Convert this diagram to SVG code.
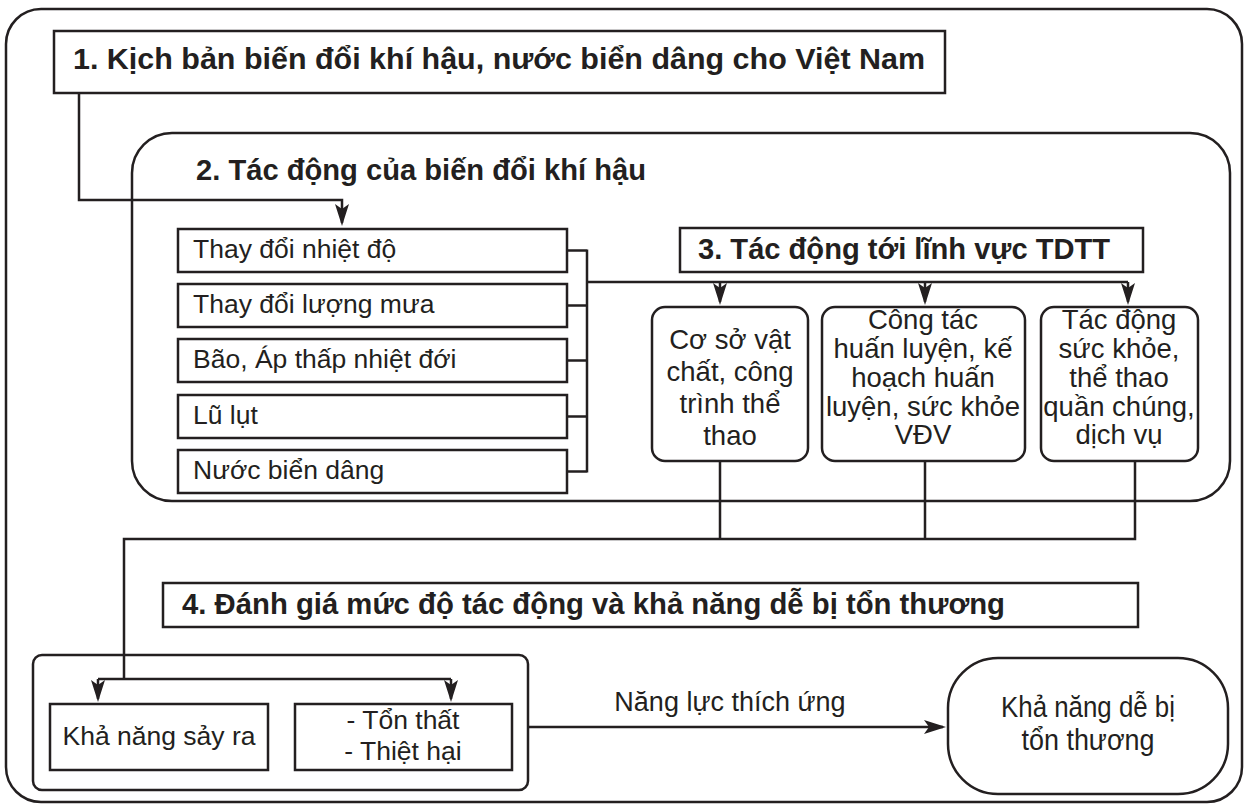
<svg xmlns="http://www.w3.org/2000/svg" width="1245" height="805" viewBox="0 0 1245 805">
<defs>
<marker id="ah" markerUnits="userSpaceOnUse" markerWidth="24" markerHeight="16" refX="19" refY="7" orient="auto">
<path d="M0,0 L22,7 L0,14 L5,7 Z" fill="#231f20"/>
</marker>
<style>
.b{fill:#fff;stroke:#231f20;stroke-width:2.5}
.f{fill:none;stroke:#231f20;stroke-width:2.5}
.c{fill:none;stroke:#231f20;stroke-width:2.5}
.t{font-family:"Liberation Sans",Arial,sans-serif;font-size:26.5px;fill:#231f20}
.s{font-size:27.5px}
.h{font-family:"Liberation Sans",Arial,sans-serif;font-size:29px;font-weight:bold;fill:#231f20}
.m{text-anchor:middle}
</style>
</defs>
<rect width="1245" height="805" fill="#fff"/>
<g id="frame"><rect class="f" x="6" y="9" width="1236" height="793" rx="35"/></g>
<g id="n1"><rect class="b" x="54" y="31" width="891" height="62"/>
<text class="h" x="73" y="69" textLength="852" lengthAdjust="spacingAndGlyphs">1. Kịch bản biến đổi khí hậu, nước biển dâng cho Việt Nam</text></g>
<g id="n2"><rect class="f" x="132" y="133" width="1098" height="368" rx="40"/>
<text class="h" x="196" y="180" textLength="450" lengthAdjust="spacingAndGlyphs">2. Tác động của biến đổi khí hậu</text></g>
<g id="l1"><rect class="b" x="178" y="229" width="389" height="43"/><text class="t" x="193" y="258">Thay đổi nhiệt độ</text></g>
<g id="l2"><rect class="b" x="178" y="284" width="389" height="43"/><text class="t" x="193" y="313">Thay đổi lượng mưa</text></g>
<g id="l3"><rect class="b" x="178" y="339" width="389" height="43"/><text class="t" x="193" y="368">Bão, Áp thấp nhiệt đới</text></g>
<g id="l4"><rect class="b" x="178" y="395" width="389" height="43"/><text class="t" x="193" y="424">Lũ lụt</text></g>
<g id="l5"><rect class="b" x="178" y="450" width="389" height="43"/><text class="t" x="193" y="479">Nước biển dâng</text></g>
<g id="n3"><rect class="b" x="680" y="228" width="463" height="44"/>
<text class="h" x="698" y="259" textLength="412" lengthAdjust="spacingAndGlyphs">3. Tác động tới lĩnh vực TDTT</text></g>
<g id="s1"><rect class="b" x="652" y="307" width="156" height="154" rx="13"/>
<text class="t s m" x="730"><tspan x="730" y="349">Cơ sở vật</tspan><tspan x="730" y="381">chất, công</tspan><tspan x="730" y="413">trình thể</tspan><tspan x="730" y="445">thao</tspan></text></g>
<g id="s2"><rect class="b" x="822" y="307" width="203" height="154" rx="13"/>
<text class="t s m" x="923"><tspan x="923" y="329">Công tác</tspan><tspan x="923" y="358">huấn luyện, kế</tspan><tspan x="923" y="387">hoạch huấn</tspan><tspan x="923" y="416">luyện, sức khỏe</tspan><tspan x="923" y="444">VĐV</tspan></text></g>
<g id="s3"><rect class="b" x="1041" y="307" width="157" height="154" rx="13"/>
<text class="t s m" x="1119"><tspan x="1119" y="329">Tác động</tspan><tspan x="1119" y="358">sức khỏe,</tspan><tspan x="1119" y="387">thể thao</tspan><tspan x="1119" y="416">quần chúng,</tspan><tspan x="1119" y="444">dịch vụ</tspan></text></g>
<g id="n4"><rect class="b" x="163" y="583" width="975" height="44"/>
<text class="h" x="182" y="614" textLength="823" lengthAdjust="spacingAndGlyphs">4. Đánh giá mức độ tác động và khả năng dễ bị tổn thương</text></g>
<g id="g4"><rect class="b" x="33" y="655" width="495" height="135" rx="9"/></g>
<g id="k1"><rect class="b" x="50" y="704" width="218" height="66"/><text class="t m" x="159" y="745">Khả năng sảy ra</text></g>
<g id="k2"><rect class="b" x="295" y="704" width="217" height="66"/>
<text class="t m" x="403"><tspan x="403" y="729">- Tổn thất</tspan><tspan x="403" y="760">- Thiệt hại</tspan></text></g>
<g id="k3"><rect class="b" x="948" y="658" width="280" height="136" rx="50"/>
<text class="t m" style="font-size:30px"><tspan x="1088" y="717" textLength="174" lengthAdjust="spacingAndGlyphs">Khả năng dễ bị</tspan></text>
<text class="t m" style="font-size:30px"><tspan x="1088" y="750" textLength="133" lengthAdjust="spacingAndGlyphs">tổn thương</tspan></text></g>
<g id="connectors">
<path class="c" d="M79,93 V200 H342 V223" marker-end="url(#ah)"/>
<path class="c" d="M567,250.5 H587 M567,305.5 H587 M567,360.5 H587 M567,416.5 H587 M567,471.5 H587 M587,249.5 V472.5"/>
<path class="c" d="M587,282 H1128"/>
<path class="c" d="M720,282 V302" marker-end="url(#ah)"/>
<path class="c" d="M925,282 V302" marker-end="url(#ah)"/>
<path class="c" d="M1128,282 V302" marker-end="url(#ah)"/>
<path class="c" d="M720,461 V539 M925,461 V539 M1135,461 V539 H124 V679"/>
<path class="c" d="M98,679 H451"/>
<path class="c" d="M98,679 V699" marker-end="url(#ah)"/>
<path class="c" d="M451,679 V699" marker-end="url(#ah)"/>
<path class="c" d="M528,727 H943" marker-end="url(#ah)"/>
<text class="t m" x="730" y="711" style="font-size:27px">Năng lực thích ứng</text>
</g>
</svg>
